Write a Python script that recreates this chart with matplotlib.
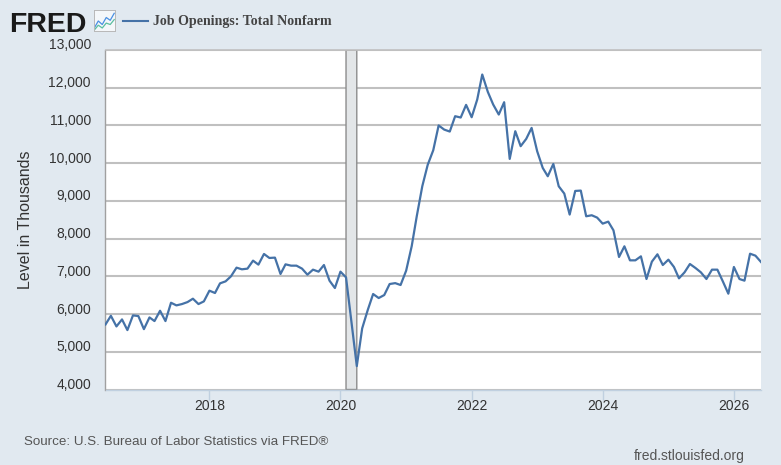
import matplotlib
matplotlib.use("Agg")
import matplotlib.pyplot as plt
import matplotlib.dates as mdates
from matplotlib.transforms import ScaledTranslation
import pandas as pd

W, H = 781, 465

dates = pd.date_range("2016-06-01", "2026-06-01", freq="MS")
openings = [
    5724, 5954, 5672, 5858, 5575, 5965, 5947,
    5600, 5911, 5814, 6088, 5814, 6300, 6230, 6265, 6318, 6407, 6265, 6336,
    6620, 6558, 6814, 6867, 7000, 7230, 7186, 7204, 7416, 7310, 7593, 7487,
    7496, 7062, 7318, 7283, 7283, 7204, 7044, 7177, 7124, 7300, 6885, 6690,
    7124, 6973, 5840, 4620, 5620, 6106, 6531, 6425, 6504, 6796, 6820, 6770,
    7150, 7800, 8590, 9390, 9954, 10343, 11000, 10890, 10838, 11245, 11210, 11545,
    11218, 11687, 12350, 11890, 11554, 11289, 11616, 10113, 10847, 10450, 10644, 10935,
    10316, 9874, 9653, 9980, 9388, 9194, 8637, 9264, 9273, 8592, 8619, 8557,
    8397, 8450, 8220, 7513, 7796, 7424, 7424, 7530, 6929, 7389, 7584, 7300,
    7442, 7248, 6947, 7106, 7327, 7221, 7106, 6929, 7177, 7177, 6860, 6540,
    7248, 6929, 6885, 7600, 7548, 7380,
]
y_ticks = list(range(4000, 14000, 1000))
x_years = [2018, 2020, 2022, 2024, 2026]
recession = ("2020-02-01", "2020-04-01")
icon_blue = [1, 3, 2, 4, 3.2, 5.2]
icon_green = [0.4, 1.8, 1, 2.4, 2, 3.4]

bg = "#E1E9F0"
line_color = "#4572A7"
plt.rcParams["font.family"] = ["Liberation Sans", "DejaVu Sans"]

fig = plt.figure(figsize=(W / 100, H / 100), dpi=100, facecolor=bg)
ax = fig.add_axes([105.5 / W, 1 - 389.5 / H, (761 - 105.5) / W, (389.5 - 50) / H])

band = ax.axvspan(pd.Timestamp(recession[0]), pd.Timestamp(recession[1]), facecolor="#E3E6E8",
                  edgecolor="#8C8C8C", linewidth=1, zorder=1)
band.set_snap(False)
ax.plot(dates, openings, color=line_color, linewidth=1.6, zorder=3)

ax.set_xlim(pd.Timestamp("2016-06-01"), pd.Timestamp("2026-06-01"))
ax.set_ylim(4000, 13000)
ax.set_yticks(y_ticks)
ax.set_yticklabels([f"{v:,}" for v in y_ticks])
ax.set_xticks([pd.Timestamp(f"{y}-01-01") for y in x_years])
ax.xaxis.set_major_formatter(mdates.DateFormatter("%Y"))
ax.grid(axis="y", color="#C0C0C0", linewidth=1.5, zorder=0)
ax.set_axisbelow(True)

ax.spines["top"].set_color("#C0C0C0")
ax.spines["top"].set_linewidth(1.2)
ax.spines["right"].set_visible(False)
ax.spines["left"].set_color("#A0A0A0")
ax.spines["left"].set_linewidth(1)
ax.spines["bottom"].set_color("#C0D0E0")
ax.spines["bottom"].set_linewidth(1)

ax.tick_params(axis="y", length=0, pad=10.5, labelsize=10, labelcolor="#333333")
ax.tick_params(axis="x", length=7, width=1, color="#C0D0E0", pad=0, labelsize=10, labelcolor="#333333")
# y labels sit above their gridlines
up = ScaledTranslation(0, 6 / 100, fig.dpi_scale_trans)
for lab in ax.get_yticklabels():
    lab.set_transform(lab.get_transform() + up)

fig.text(26 / W, 1 - 220 / H, "Level in Thousands", rotation=90, ha="center", va="center",
         fontsize=11.5, color="#333333")

# header
fig.text(9.5 / W, 1 - 32 / H, "FRED", fontsize=20.5, fontweight="bold", color="#1A1A1A", ha="left", va="baseline")
icon = fig.add_axes([93.5 / W, 1 - 31.5 / H, 21.5 / W, 21 / H], facecolor="#F4F7FA")
icon.plot(icon_blue, color="#4A90E2", linewidth=0.9)
icon.plot(icon_green, color="#5BBFA0", linewidth=0.9)
icon.set_xlim(-0.2, 5.2)
icon.set_ylim(0, 6)
icon.set_xticks([])
icon.set_yticks([])
for s in icon.spines.values():
    s.set_color("#B8B8B8")
    s.set_linewidth(0.7)

fig.add_artist(plt.Line2D([123 / W, 148 / W], [1 - 21.5 / H, 1 - 21.5 / H], color=line_color, linewidth=1.5))
fig.text(153 / W, 1 - 22 / H, "Job Openings: Total Nonfarm", fontsize=10.1, fontweight="bold",
         family=["Liberation Serif", "DejaVu Serif"], color="#444444", ha="left", va="center")

# footer
fig.text(24 / W, 1 - 441.5 / H, "Source: U.S. Bureau of Labor Statistics via FRED\u00ae", fontsize=9.6,
         color="#555555", ha="left", va="center")
fig.text(745 / W, 1 - 455.5 / H, "fred.stlouisfed.org", fontsize=10, color="#555555", ha="right", va="center")

fig.savefig("out.png", dpi=100, facecolor=bg)
